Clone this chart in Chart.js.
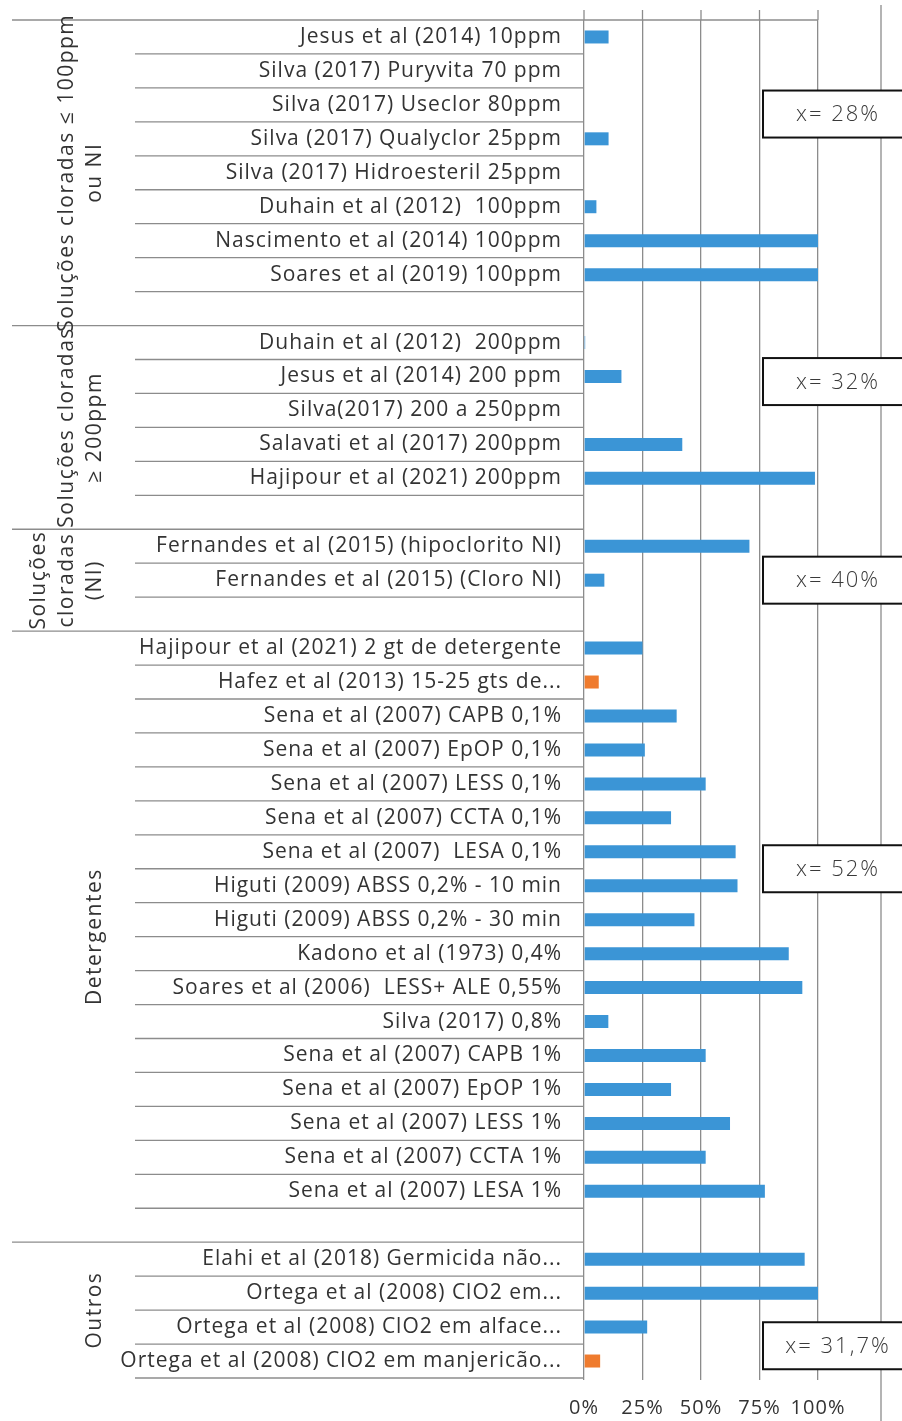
<!DOCTYPE html>
<html lang="pt-BR">
<head>
<meta charset="utf-8">
<title>Redução microbiana por sanitizante</title>
<script src="https://cdn.jsdelivr.net/npm/chart.js@4.4.0/dist/chart.umd.min.js"></script>
<style>
  html, body { margin: 0; padding: 0; background: #fff; }
  #caixa-grafico { width: 902px; height: 1421px; position: relative; }
</style>
</head>
<body>
<div id="caixa-grafico"><canvas id="grafico"></canvas></div>
<script>
// nomes dos grupos (uma entrada por linha do texto girado)
var gruposNomes = [
  ["Soluções cloradas ≤ 100ppm", "ou NI"],
  ["Soluções cloradas", "≥ 200ppm"],
  ["Soluções", "cloradas", "(NI)"],
  ["Detergentes"],
  ["Outros"]
];

var cloradas100Rotulos = [
  "Jesus et al (2014) 10ppm",
  "Silva (2017) Puryvita 70 ppm",
  "Silva (2017) Useclor 80ppm",
  "Silva (2017) Qualyclor 25ppm",
  "Silva (2017) Hidroesteril 25ppm",
  "Duhain et al (2012)  100ppm",
  "Nascimento et al (2014) 100ppm",
  "Soares et al (2019) 100ppm"
];
var cloradas100Valores = [10.5, 0, 0, 10.5, 0, 5.3, 100, 100];

var cloradas200Rotulos = [
  "Duhain et al (2012)  200ppm",
  "Jesus et al (2014) 200 ppm",
  "Silva(2017) 200 a 250ppm",
  "Salavati et al (2017) 200ppm",
  "Hajipour et al (2021) 200ppm"
];
var cloradas200Valores = [0.5, 16, 0, 42, 98.7];

var cloradasNIRotulos = [
  "Fernandes et al (2015) (hipoclorito NI)",
  "Fernandes et al (2015) (Cloro NI)"
];
var cloradasNIValores = [70.7, 8.7];

var detergentesRotulos = [
  "Hajipour et al (2021) 2 gt de detergente",
  "Hafez et al (2013) 15-25 gts de...",
  "Sena et al (2007) CAPB 0,1%",
  "Sena et al (2007) EpOP 0,1%",
  "Sena et al (2007) LESS 0,1%",
  "Sena et al (2007) CCTA 0,1%",
  "Sena et al (2007)  LESA 0,1%",
  "Higuti (2009) ABSS 0,2% - 10 min",
  "Higuti (2009) ABSS 0,2% - 30 min",
  "Kadono et al (1973) 0,4%",
  "Soares et al (2006)  LESS+ ALE 0,55%",
  "Silva (2017) 0,8%",
  "Sena et al (2007) CAPB 1%",
  "Sena et al (2007) EpOP 1%",
  "Sena et al (2007) LESS 1%",
  "Sena et al (2007) CCTA 1%",
  "Sena et al (2007) LESA 1%"
];
var detergentesValores = [25, 6.3, 39.6, 26, 52, 37.2, 64.8, 65.6, 47.2, 87.5, 93.3, 10.4, 52, 37.2, 62.4, 52, 77.3];

var outrosRotulos = [
  "Elahi et al (2018) Germicida não...",
  "Ortega et al (2008) ClO2 em...",
  "Ortega et al (2008) ClO2 em alface...",
  "Ortega et al (2008) ClO2 em manjericão..."
];
var outrosValores = [94.3, 100, 27, 6.9];

// estudos pintados de laranja
var destaques = [
  "Hafez et al (2013) 15-25 gts de...",
  "Ortega et al (2008) ClO2 em manjericão..."
];

// média de cada grupo
var medias = ["x= 28%", "x= 32%", "x= 40%", "x= 52%", "x= 31,7%"];

var ticksX = [0, 25, 50, 75, 100];

var gruposRotulos = [cloradas100Rotulos, cloradas200Rotulos, cloradasNIRotulos, detergentesRotulos, outrosRotulos];
var gruposValores = [cloradas100Valores, cloradas200Valores, cloradasNIValores, detergentesValores, outrosValores];

// monta as categorias; cada grupo (menos o último) termina com uma linha vazia
var categorias = [];
var valoresAzul = [];
var valoresLaranja = [];
var faixasGrupo = [];
gruposRotulos.forEach(function(rotulos, g) {
  var inicio = categorias.length;
  rotulos.forEach(function(r, i) {
    var v = gruposValores[g][i];
    categorias.push(r);
    if (destaques.indexOf(r) >= 0) {
      valoresAzul.push(null);
      valoresLaranja.push(v);
    } else {
      valoresAzul.push(v);
      valoresLaranja.push(null);
    }
  });
  if (g < gruposRotulos.length - 1) {
    categorias.push("");
    valoresAzul.push(null);
    valoresLaranja.push(null);
  }
  faixasGrupo.push([inicio, categorias.length - 1]);
});

var FONTE = "'Open Sans', sans-serif";
var COR_TEXTO = "#333333";
var COR_LINHA = "#8c8c8c";

// linhas da tabela de categorias, nomes dos grupos, moldura e caixas das médias
var molduraPlugin = {
  id: "moldura",
  beforeDraw: function(chart) {
    // texto um pouco espaçado, como no original
    chart.ctx.letterSpacing = "1px";
  },
  beforeDatasetsDraw: function(chart) {
    var ctx = chart.ctx;
    var xs = chart.scales.x;
    var area = chart.chartArea;
    // as linhas verticais sobem um pouco acima da área
    ctx.save();
    ctx.strokeStyle = COR_LINHA;
    ctx.lineWidth = 1.3;
    xs.ticks.forEach(function(t) {
      var px = xs.getPixelForValue(t.value);
      ctx.beginPath();
      ctx.moveTo(px, area.top - 10);
      ctx.lineTo(px, area.top);
      ctx.stroke();
    });
    ctx.restore();
  },
  afterDraw: function(chart, args, opts) {
    var ctx = chart.ctx;
    var xs = chart.scales.x;
    var ys = chart.scales.y;
    var area = chart.chartArea;
    var meio = (ys.getPixelForValue(1) - ys.getPixelForValue(0)) / 2;

    ctx.save();
    // linha da moldura à direita
    ctx.strokeStyle = COR_LINHA;
    ctx.lineWidth = 1.3;
    ctx.beginPath();
    ctx.moveTo(chart.width - 21, 5);
    ctx.lineTo(chart.width - 21, chart.height);
    ctx.stroke();

    // linha do topo
    ctx.beginPath();
    ctx.moveTo(opts.xGrupo, area.top);
    ctx.lineTo(area.right, area.top);
    ctx.stroke();

    // separadores de linha e de grupo
    faixasGrupo.forEach(function(f, g) {
      for (var i = f[0]; i <= f[1]; i++) {
        var y = ys.getPixelForValue(i) + meio;
        var fimGrupo = i === f[1] && g < faixasGrupo.length - 1;
        ctx.beginPath();
        ctx.moveTo(fimGrupo ? opts.xGrupo : opts.xLinha, y);
        ctx.lineTo(area.left, y);
        ctx.stroke();
      }
    });

    // nomes dos grupos, girados
    ctx.fillStyle = COR_TEXTO;
    ctx.font = "21px " + FONTE;
    ctx.letterSpacing = "1.5px";
    ctx.textAlign = "center";
    ctx.textBaseline = "middle";
    faixasGrupo.forEach(function(f, g) {
      var yc = (ys.getPixelForValue(f[0]) + ys.getPixelForValue(f[1])) / 2;
      var linhas = gruposNomes[g];
      linhas.forEach(function(txt, k) {
        var x = opts.xNome - (linhas.length - 1 - k) * 28;
        ctx.save();
        ctx.translate(x, yc);
        ctx.rotate(-Math.PI / 2);
        ctx.fillText(txt, 0, 0);
        ctx.restore();
      });
    });

    // caixas com as médias
    ctx.font = "300 22px " + FONTE;
    ctx.letterSpacing = "2px";
    opts.caixas.forEach(function(pos, g) {
      var esq = xs.getPixelForValue(76.5);
      var yc = ys.getPixelForValue(pos);
      var larg = 148, alt = 47;
      ctx.fillStyle = "#fff";
      ctx.fillRect(esq, yc - alt / 2, larg, alt);
      ctx.strokeStyle = "#111";
      ctx.lineWidth = 2;
      ctx.strokeRect(esq, yc - alt / 2, larg, alt);
      ctx.fillStyle = "#3a3a3a";
      ctx.fillText(medias[g], esq + larg / 2 + 1, yc + 1);
    });
    ctx.restore();
  }
};

var grafico = new Chart(document.getElementById("grafico"), {
  type: "bar",
  data: {
    labels: categorias,
    datasets: [
      {
        label: "Redução",
        data: valoresAzul,
        backgroundColor: "#3b95d6"
      },
      {
        label: "Redução (destaque)",
        data: valoresLaranja,
        backgroundColor: "#ef7b2e"
      }
    ]
  },
  options: {
    indexAxis: "y",
    responsive: true,
    maintainAspectRatio: false,
    animation: false,
    layout: { padding: { top: 20, right: 84, left: 0, bottom: 0 } },
    datasets: { bar: { barThickness: 13, grouped: false, inflateAmount: 0 } },
    plugins: {
      legend: { display: false },
      tooltip: { enabled: false },
      moldura: { xGrupo: 12, xLinha: 135, xNome: 95, caixas: [2.27, 10.15, 16, 24.5, 38.55] }
    },
    scales: {
      x: {
        min: 0,
        max: 100,
        afterBuildTicks: function(s) {
          s.ticks = ticksX.map(function(v) { return { value: v }; });
        },
        afterFit: function(s) { s.height = 43; },
        grid: { color: COR_LINHA, lineWidth: 1.3, tickLength: 2 },
        border: { display: false },
        ticks: {
          padding: 16,
          color: COR_TEXTO,
          font: { family: FONTE, size: 20 },
          callback: function(v) { return v + "%"; }
        }
      },
      y: {
        afterFit: function(s) {
          s.width = 584;
          s.paddingTop = 0;
          s.paddingBottom = 0;
        },
        grid: { display: false },
        border: { display: false },
        ticks: {
          autoSkip: false,
          padding: 14,
          color: COR_TEXTO,
          font: { family: FONTE, size: 21 }
        }
      }
    }
  },
  plugins: [molduraPlugin]
});
</script>
</body>
</html>
